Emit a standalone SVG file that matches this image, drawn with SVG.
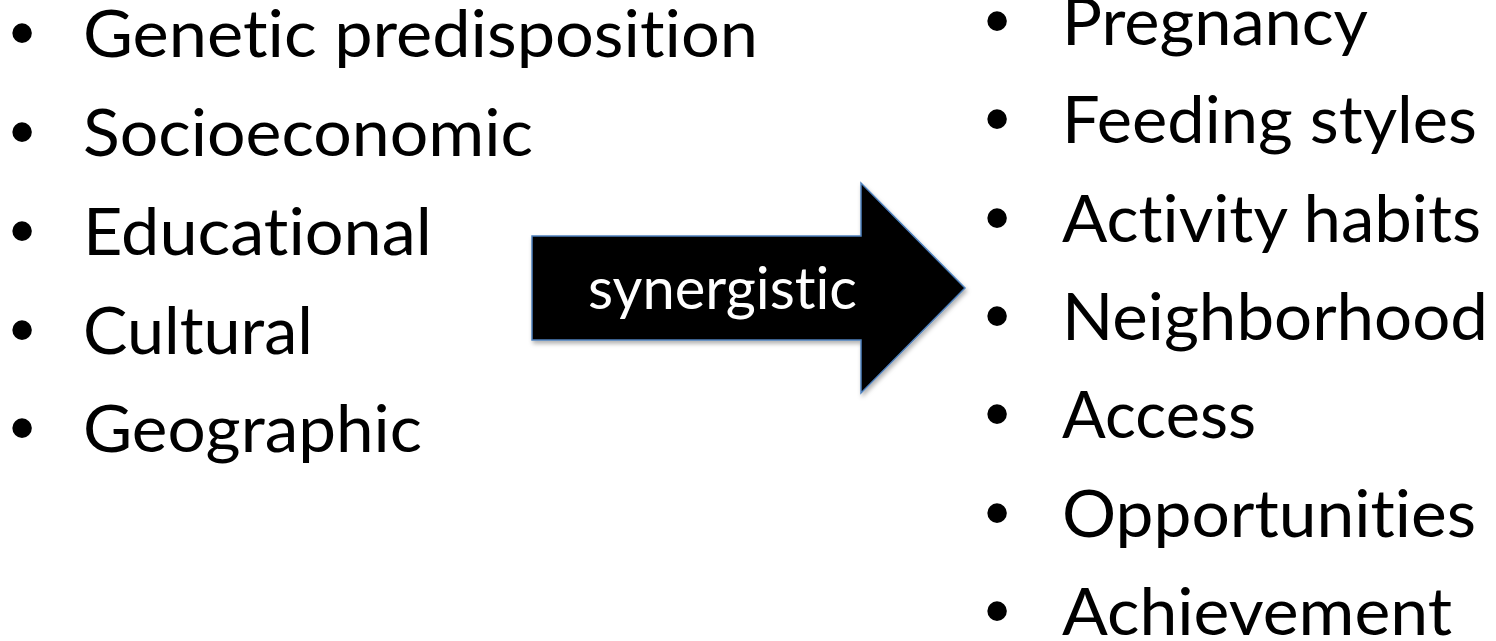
<svg xmlns="http://www.w3.org/2000/svg" width="1496" height="641" viewBox="0 0 1496 641">
  <style>
    .item { font-family: "Lato", "Open Sans", "Liberation Sans", sans-serif; font-size: 66px; fill: #000; font-variant-ligatures: none; font-feature-settings: "liga" 0, "clig" 0; }
    .bullet { font-family: "Liberation Sans", Arial, sans-serif; font-size: 72px; fill: #000; text-anchor: middle; }
    .label { font-family: "Lato", "Open Sans", "Liberation Sans", sans-serif; font-size: 59px; fill: #fff; font-variant-ligatures: none; font-feature-settings: "liga" 0, "clig" 0; }
    .block-arrow { fill: #000; stroke: #4f81bd; stroke-width: 1.5; stroke-linejoin: miter; }
  </style>
  <defs>
    <filter id="soft-shadow" x="-10%" y="-10%" width="125%" height="130%">
      <feDropShadow dx="1.5" dy="3" stdDeviation="2" flood-color="#000" flood-opacity="0.3"/>
    </filter>
  </defs>
  <rect width="1496" height="641" fill="#fff"/>

  <!-- Causes -->
  <g id="factors">
    <text class="bullet" x="22" y="57">•</text>
    <text class="item" x="83" y="57" textLength="675" lengthAdjust="spacingAndGlyphs">Genetic predisposition</text>
    <text class="bullet" x="22" y="156">•</text>
    <text class="item" x="83" y="156" textLength="450" lengthAdjust="spacingAndGlyphs">Socioeconomic</text>
    <text class="bullet" x="22" y="255">•</text>
    <text class="item" x="83" y="255" textLength="349" lengthAdjust="spacingAndGlyphs">Educational</text>
    <text class="bullet" x="22" y="354">•</text>
    <text class="item" x="83" y="354" textLength="230" lengthAdjust="spacingAndGlyphs">Cultural</text>
    <text class="bullet" x="22" y="452">•</text>
    <text class="item" x="83" y="452" textLength="339" lengthAdjust="spacingAndGlyphs">Geographic</text>
  </g>

  <!-- Block arrow linking the two lists -->
  <g id="connectors">
    <g id="synergy-arrow">
      <polygon class="block-arrow" filter="url(#soft-shadow)" points="532,236 861,236 861,183 965,288 861,393 861,340 532,340"/>
      <text class="label" x="588" y="309" textLength="269" lengthAdjust="spacingAndGlyphs">synergistic</text>
    </g>
  </g>

  <!-- Effects -->
  <g id="outcomes">
    <text class="bullet" x="997" y="45">•</text>
    <text class="item" x="1062" y="45" textLength="306" lengthAdjust="spacingAndGlyphs">Pregnancy</text>
    <text class="bullet" x="997" y="143">•</text>
    <text class="item" x="1062" y="143" textLength="415" lengthAdjust="spacingAndGlyphs">Feeding styles</text>
    <text class="bullet" x="997" y="242">•</text>
    <text class="item" x="1062" y="242" textLength="419" lengthAdjust="spacingAndGlyphs">Activity habits</text>
    <text class="bullet" x="997" y="340">•</text>
    <text class="item" x="1062" y="340" textLength="426" lengthAdjust="spacingAndGlyphs">Neighborhood</text>
    <text class="bullet" x="997" y="438">•</text>
    <text class="item" x="1062" y="438" textLength="194" lengthAdjust="spacingAndGlyphs">Access</text>
    <text class="bullet" x="997" y="537">•</text>
    <text class="item" x="1062" y="537" textLength="414" lengthAdjust="spacingAndGlyphs">Opportunities</text>
    <text class="bullet" x="997" y="635">•</text>
    <text class="item" x="1062" y="635" textLength="390" lengthAdjust="spacingAndGlyphs">Achievement</text>
  </g>
</svg>
